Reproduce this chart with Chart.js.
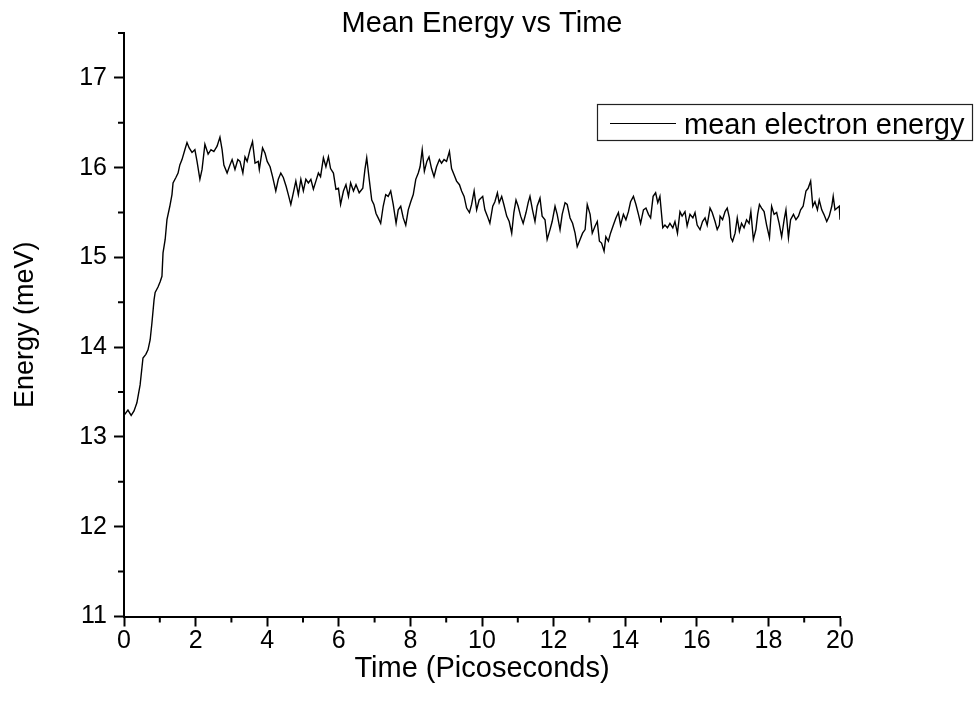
<!DOCTYPE html>
<html lang="en">
<head>
    <meta charset="UTF-8">
    <title>Mean Energy vs Time</title>
    <script src="https://cdn.jsdelivr.net/npm/chart.js"></script>
    <style>
        body { margin: 0; background: #fff; }
    </style>
</head>
<body>
    <canvas id="energyChart" width="974" height="708"></canvas>

    <script>
        const chartTitle = "Mean Energy vs Time";
        const seriesLabel = "mean electron energy";
        const xTitle = "Time (Picoseconds)";
        const yTitle = "Energy (meV)";

        // time in ps
        const timePs = [
            0.00, 0.11, 0.20, 0.28, 0.36, 0.45, 0.53, 0.61, 0.67, 0.73,
            0.78, 0.84, 0.87, 0.95, 1.01, 1.06, 1.09, 1.15, 1.20, 1.28,
            1.34, 1.37, 1.45, 1.51, 1.56, 1.62, 1.70, 1.76, 1.82, 1.90,
            1.98, 2.04, 2.12, 2.18, 2.26, 2.35, 2.43, 2.51, 2.60, 2.68,
            2.74, 2.79, 2.88, 2.96, 3.02, 3.10, 3.18, 3.24,
            3.32, 3.38, 3.44, 3.52, 3.59, 3.66, 3.75, 3.78, 3.87, 3.94,
            4.00, 4.08, 4.15, 4.24, 4.31, 4.38, 4.45, 4.53, 4.59, 4.66,
            4.73, 4.80, 4.87, 4.94, 5.01, 5.08, 5.15, 5.22, 5.29, 5.36,
            5.43, 5.49, 5.57, 5.64, 5.71, 5.77, 5.85, 5.92, 5.99, 6.05,
            6.13, 6.20, 6.27, 6.33, 6.41, 6.48, 6.57,
            6.67, 6.73, 6.78, 6.85, 6.92, 6.98, 7.04, 7.10, 7.17, 7.24,
            7.31, 7.38, 7.45, 7.52, 7.60, 7.66, 7.73, 7.80, 7.87, 7.94,
            8.01, 8.08, 8.15, 8.22, 8.27, 8.33, 8.39, 8.46, 8.52, 8.59,
            8.66, 8.73, 8.81, 8.87, 8.94, 9.01, 9.09, 9.15, 9.22, 9.29,
            9.37, 9.43, 9.50, 9.57, 9.65, 9.71, 9.78, 9.85, 9.92,
            10.02, 10.08, 10.15, 10.22, 10.30, 10.36, 10.43, 10.48, 10.55, 10.61,
            10.69, 10.76, 10.83, 10.89, 10.95, 11.01, 11.08, 11.15, 11.23, 11.29,
            11.34, 11.41, 11.48, 11.54, 11.62, 11.68, 11.76, 11.82, 11.90, 11.96,
            12.04, 12.10, 12.18, 12.24, 12.32, 12.38, 12.46, 12.53, 12.60, 12.66,
            12.74, 12.81, 12.88, 12.94, 13.02, 13.08, 13.16, 13.22, 13.28,
            13.34, 13.41, 13.46, 13.53, 13.59, 13.67, 13.74, 13.81, 13.87, 13.95,
            14.02, 14.09, 14.15, 14.23, 14.30, 14.37, 14.43, 14.51, 14.58, 14.65,
            14.71, 14.78, 14.85, 14.91, 14.97, 15.05, 15.11, 15.18, 15.25, 15.33,
            15.39, 15.46, 15.53, 15.59, 15.67, 15.73, 15.81, 15.89, 15.95, 16.01,
            16.09, 16.16, 16.23, 16.29, 16.37, 16.43, 16.51, 16.57, 16.63,
            16.65, 16.72, 16.79, 16.85, 16.91, 16.95, 17.00, 17.07, 17.13, 17.19,
            17.25, 17.32, 17.39, 17.46, 17.51, 17.58, 17.65, 17.70, 17.75, 17.81,
            17.88, 17.95, 18.03, 18.09, 18.16, 18.23, 18.30, 18.37, 18.44, 18.49,
            18.56, 18.62, 18.70, 18.77, 18.84, 18.90, 18.97, 19.05, 19.11, 19.18,
            19.24, 19.30, 19.37, 19.42, 19.49, 19.55, 19.63, 19.70, 19.77, 19.81,
            19.86, 19.92, 19.98, 20.00
        ];

        // mean electron energy in meV
        const energyMeV = [
            13.24, 13.30, 13.24, 13.29, 13.38, 13.58, 13.88, 13.92, 13.97, 14.08,
            14.27, 14.53, 14.61, 14.67, 14.73, 14.79, 15.05, 15.20, 15.42, 15.57,
            15.70, 15.83, 15.89, 15.94, 16.03, 16.09, 16.20, 16.28, 16.22, 16.17,
            16.20, 16.07, 15.87, 15.98, 16.26, 16.15, 16.20, 16.18, 16.24, 16.34,
            16.20, 16.03, 15.94, 16.03, 16.09, 15.98, 16.09, 16.07,
            15.94, 16.12, 16.07, 16.20, 16.29, 16.05, 16.07, 15.98, 16.22, 16.16,
            16.07, 16.01, 15.90, 15.74, 15.87, 15.94, 15.89, 15.79, 15.70, 15.59,
            15.72, 15.85, 15.70, 15.87, 15.74, 15.87, 15.83, 15.87, 15.76, 15.85,
            15.94, 15.90, 16.11, 16.01, 16.12, 15.99, 15.94, 15.76, 15.77, 15.59,
            15.74, 15.81, 15.68, 15.83, 15.74, 15.81, 15.72,
            15.77, 15.98, 16.11, 15.87, 15.64, 15.59, 15.49, 15.44, 15.38, 15.57,
            15.70, 15.68, 15.74, 15.59, 15.38, 15.53, 15.57, 15.44, 15.36, 15.53,
            15.62, 15.70, 15.87, 15.94, 16.01, 16.20, 15.96, 16.07, 16.12, 15.99,
            15.90, 16.01, 16.09, 16.05, 16.09, 16.07, 16.18, 15.99, 15.92, 15.85,
            15.81, 15.74, 15.68, 15.55, 15.50, 15.59, 15.74, 15.53, 15.64,
            15.68, 15.53, 15.46, 15.38, 15.57, 15.62, 15.72, 15.61, 15.68, 15.59,
            15.46, 15.40, 15.27, 15.50, 15.64, 15.57, 15.46, 15.38, 15.50, 15.61,
            15.68, 15.53, 15.40, 15.57, 15.66, 15.46, 15.42, 15.20, 15.31, 15.40,
            15.57, 15.48, 15.31, 15.48, 15.61, 15.59, 15.44, 15.38, 15.27, 15.12,
            15.20, 15.27, 15.31, 15.59, 15.48, 15.27, 15.35, 15.40, 15.18,
            15.16, 15.07, 15.23, 15.18, 15.27, 15.36, 15.44, 15.50, 15.36, 15.48,
            15.42, 15.51, 15.62, 15.68, 15.59, 15.48, 15.38, 15.53, 15.55, 15.48,
            15.44, 15.68, 15.72, 15.61, 15.68, 15.33, 15.36, 15.33, 15.38, 15.33,
            15.40, 15.27, 15.51, 15.46, 15.51, 15.35, 15.48, 15.44, 15.50, 15.36,
            15.31, 15.40, 15.44, 15.36, 15.55, 15.50, 15.40, 15.31, 15.36,
            15.46, 15.42, 15.51, 15.55, 15.44, 15.22, 15.18, 15.27, 15.44, 15.29,
            15.38, 15.33, 15.42, 15.38, 15.51, 15.20, 15.31, 15.48, 15.59, 15.55,
            15.51, 15.36, 15.22, 15.57, 15.48, 15.50, 15.38, 15.23, 15.42, 15.53,
            15.22, 15.42, 15.48, 15.42, 15.46, 15.53, 15.57, 15.74, 15.77, 15.85,
            15.57, 15.62, 15.53, 15.64, 15.53, 15.48, 15.40, 15.46, 15.57, 15.68,
            15.53, 15.55, 15.57, 15.42
        ];

        const xMinorTicks = [1, 3, 5, 7, 9, 11, 13, 15, 17, 19];
        const yMinorTicks = [11.5, 12.5, 13.5, 14.5, 15.5, 16.5, 17.5];

        const fontFamily = '"Liberation Sans", Arial, sans-serif';
        Chart.defaults.font.family = fontFamily;
        Chart.defaults.color = '#000';

        // title, legend box and minor ticks drawn by hand (Origin style)
        const originExtras = {
            id: 'originExtras',
            afterDraw(chart) {
                const { ctx, chartArea, scales: { x, y } } = chart;
                ctx.save();

                ctx.strokeStyle = '#000';
                ctx.lineWidth = 2;
                ctx.beginPath();
                yMinorTicks.forEach(v => {
                    const py = y.getPixelForValue(v);
                    ctx.moveTo(chartArea.left, py);
                    ctx.lineTo(chartArea.left - 6, py);
                });
                xMinorTicks.forEach(v => {
                    const px = x.getPixelForValue(v);
                    ctx.moveTo(px, chartArea.bottom);
                    ctx.lineTo(px, chartArea.bottom + 6);
                });
                ctx.stroke();

                ctx.fillStyle = '#000';
                ctx.font = '29px ' + fontFamily;
                ctx.textAlign = 'center';
                ctx.textBaseline = 'alphabetic';
                ctx.fillText(chartTitle, (chartArea.left + chartArea.right) / 2, 32);

                // legend
                const ds = chart.data.datasets[0];
                ctx.lineWidth = 1.2;
                ctx.strokeStyle = '#222';
                ctx.strokeRect(597.5, 104.5, 375, 36);
                ctx.beginPath();
                ctx.strokeStyle = ds.borderColor;
                ctx.lineWidth = 1;
                ctx.moveTo(610, 123.5);
                ctx.lineTo(676, 123.5);
                ctx.stroke();
                ctx.textAlign = 'left';
                ctx.font = '29px ' + fontFamily;
                ctx.fillText(ds.label, 684, 134);

                ctx.restore();
            }
        };

        const ctx = document.getElementById('energyChart').getContext('2d');
        new Chart(ctx, {
            type: 'line',
            data: {
                datasets: [{
                    label: seriesLabel,
                    data: timePs.map((t, i) => ({ x: t, y: energyMeV[i] })),
                    borderColor: '#000',
                    borderWidth: 1.4,
                    pointRadius: 0,
                    tension: 0,
                    fill: false
                }]
            },
            options: {
                responsive: false,
                animation: false,
                devicePixelRatio: 1,
                layout: { padding: { left: 0, right: 134, top: 33, bottom: 0 } },
                plugins: {
                    legend: { display: false },
                    title: { display: false },
                    tooltip: { enabled: false }
                },
                scales: {
                    x: {
                        type: 'linear',
                        min: 0,
                        max: 20,
                        afterFit: scale => { scale.height = 91.5; },
                        ticks: {
                            stepSize: 2,
                            color: '#000',
                            font: { size: 25 },
                            padding: 0,
                            maxRotation: 0,
                            autoSkip: false
                        },
                        grid: {
                            drawOnChartArea: false,
                            tickLength: 10,
                            tickWidth: 2,
                            tickColor: '#000'
                        },
                        border: { color: '#000', width: 2 },
                        title: {
                            display: true,
                            text: xTitle,
                            color: '#000',
                            font: { size: 29 },
                            padding: { top: 0, bottom: 22 }
                        }
                    },
                    y: {
                        min: 11,
                        max: 17.5,
                        afterFit: scale => { scale.width = 124; },
                        ticks: {
                            stepSize: 1,
                            includeBounds: false,
                            color: '#000',
                            font: { size: 25 },
                            padding: 7
                        },
                        grid: {
                            drawOnChartArea: false,
                            tickLength: 10,
                            tickWidth: 2,
                            tickColor: '#000'
                        },
                        border: { color: '#000', width: 2 },
                        title: {
                            display: true,
                            text: yTitle,
                            color: '#000',
                            font: { size: 27 },
                            padding: { top: 9, bottom: 0 }
                        }
                    }
                }
            },
            plugins: [originExtras]
        });
    </script>
</body>
</html>
